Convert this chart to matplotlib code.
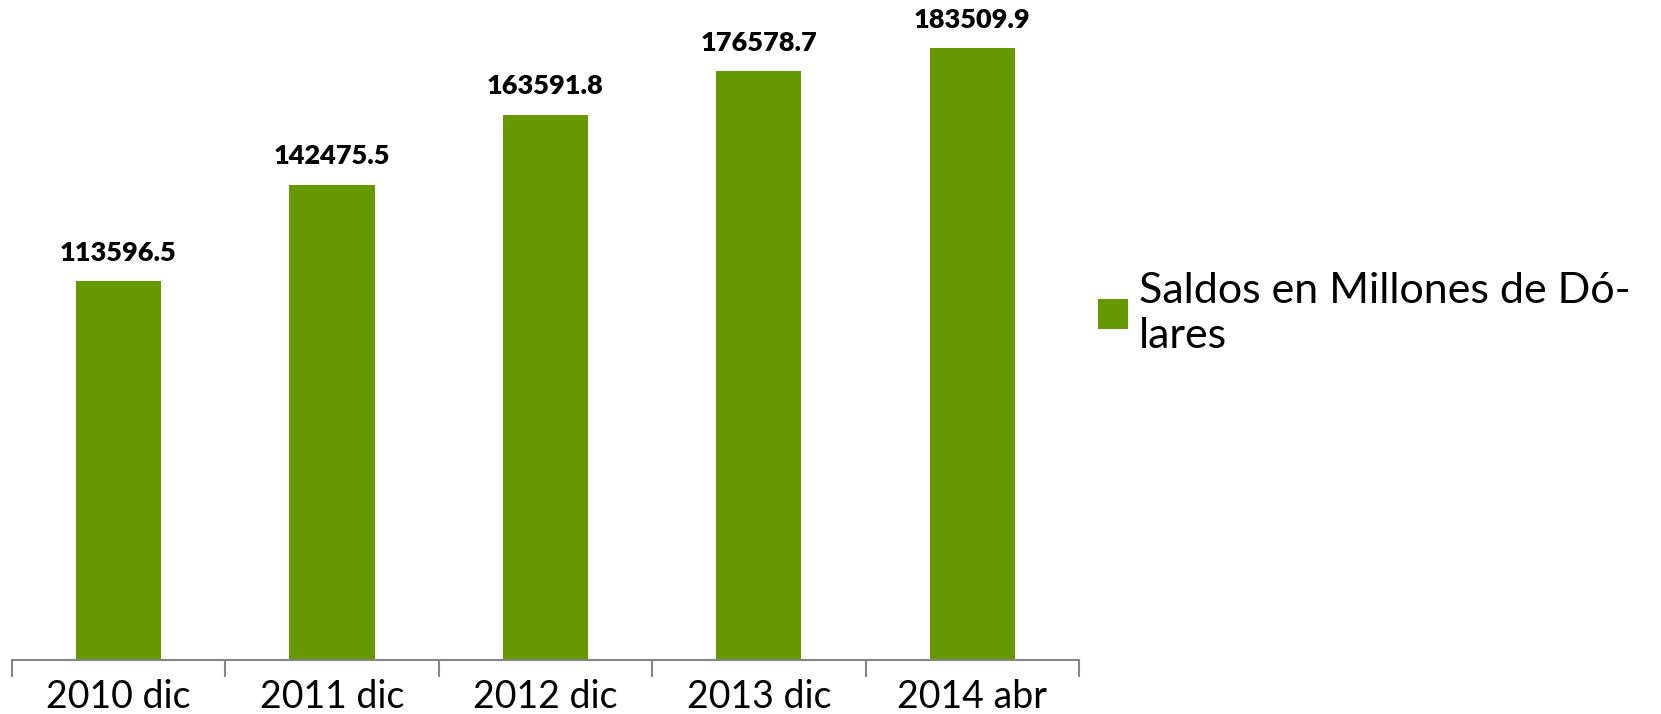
import numpy as np
import matplotlib.pyplot as plt

plt.rcParams['font.family'] = ['Lato', 'DejaVu Sans']

categorias = ['2010 dic', '2011 dic', '2012 dic', '2013 dic', '2014 abr']
saldos = [113596.5, 142475.5, 163591.8, 176578.7, 183509.9]
serie = 'Saldos en Millones de Dó-\nlares'

verde = '#669900'
gris = '#868686'

fig = plt.figure(figsize=(16.61, 7.14), dpi=100)
ax = fig.add_axes([0.007, 0.0756, 0.6426, 0.9244])

x = np.arange(len(categorias))
barras = ax.bar(x, saldos, width=0.4, color=verde, label=serie)

for xi, v in zip(x, saldos):
    ax.annotate('{:.1f}'.format(v), (xi, v), xytext=(0, 12), textcoords='offset points',
                ha='center', va='bottom', fontsize=19.5, fontweight='heavy')

ax.set_xlim(-0.5, len(categorias) - 0.5)
ax.set_ylim(0, 198000)

for s in ['top', 'right', 'left']:
    ax.spines[s].set_visible(False)
ax.spines['bottom'].set_color(gris)
ax.spines['bottom'].set_linewidth(1.5)
ax.set_yticks([])

# ticks en los limites de categoria, etiquetas centradas
ax.set_xticks(np.arange(len(categorias) + 1) - 0.5)
ax.set_xticklabels([])
ax.tick_params(axis='x', which='major', length=12, width=1.5, color=gris)
ax.set_xticks(x, minor=True)
ax.set_xticklabels(categorias, minor=True, fontsize=27)
ax.tick_params(axis='x', which='minor', length=0, pad=14)

fig.legend(handles=[barras], labels=[serie], loc='center left',
           bbox_to_anchor=(0.638, 0.561), frameon=False, fontsize=31,
           handlelength=0.68, handleheight=0.68, handletextpad=0.27, labelspacing=0.2)

plt.savefig('out.png', dpi=100)
